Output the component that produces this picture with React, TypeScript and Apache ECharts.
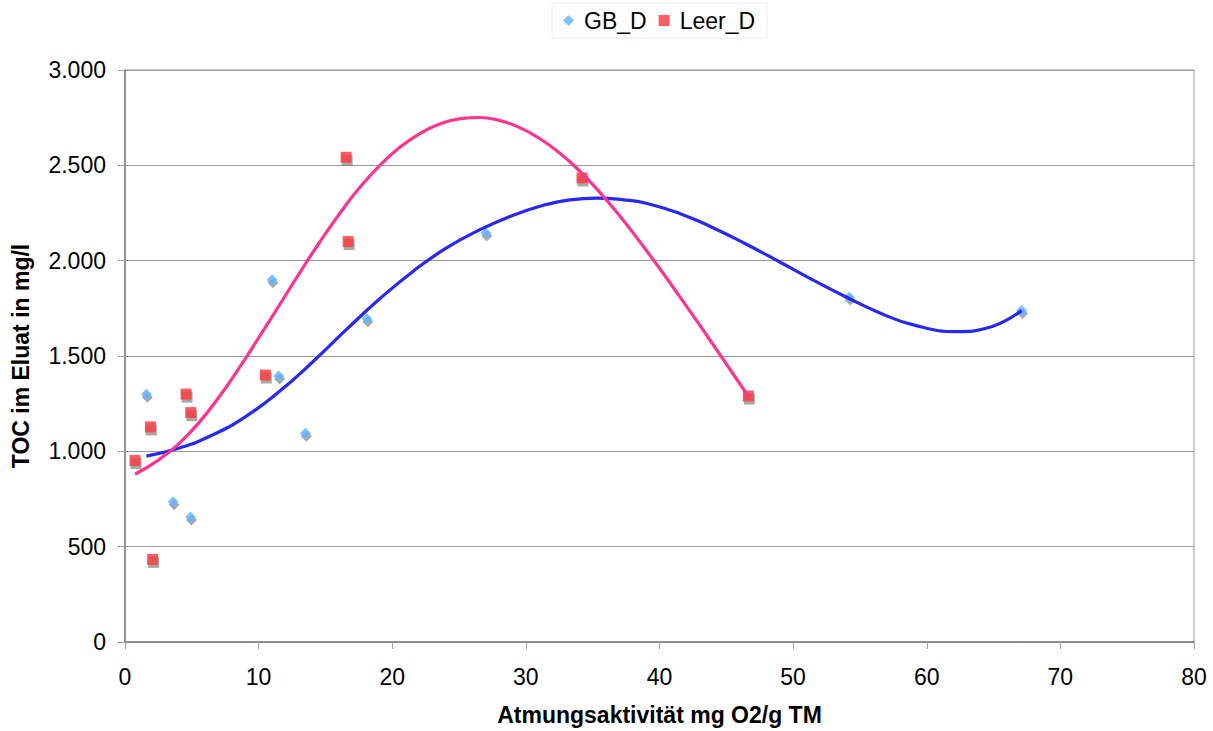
import React, { useEffect, useRef } from "react";
import * as echarts from "echarts";

// Scatter data
const gbX = [1.6, 3.6, 4.9, 11.0, 11.5, 13.5, 18.1, 27.0, 54.2, 67.1];
const gbY = [1300, 735, 655, 1900, 1395, 1095, 1695, 2145, 1810, 1738];
const leerX = [0.75, 1.9, 2.07, 4.57, 4.92, 10.5, 16.55, 16.7, 34.2, 46.65];
const leerY = [952, 1128, 433, 1300, 1203, 1400, 2542, 2100, 2434, 1290];

// Trend lines
const gbTrendX = [1.6, 4, 6.5, 9, 11.5, 14, 16.5, 19, 21.5, 24, 26.5, 29, 31.5, 33.3, 35.3, 37.3, 39, 41.5, 44, 46.5, 49, 51.5, 54, 56.5, 59, 62.3, 64.5, 67.1];
const gbTrendY = [975, 1016, 1084, 1181, 1311, 1466, 1634, 1796, 1941, 2064, 2160, 2237, 2294, 2319, 2328, 2319, 2301, 2248, 2173, 2086, 1993, 1898, 1808, 1726, 1663, 1628, 1647, 1738];
const leerTrendX = [0.75, 2.5, 4, 5.5, 7, 8.5, 10, 11.5, 13, 14.5, 16, 17.5, 19, 20.5, 22, 23.5, 25, 26.5, 28, 29.5, 31, 32.5, 34, 35.5, 37, 38.5, 40, 41.5, 43, 44.5, 46.65];
const leerTrendY = [880, 954, 1038, 1148, 1281, 1433, 1595, 1761, 1928, 2090, 2241, 2378, 2495, 2591, 2664, 2715, 2744, 2751, 2736, 2699, 2642, 2566, 2472, 2361, 2237, 2102, 1960, 1813, 1663, 1510, 1289];

// Axis ticks
const xTicks = { min: 0, max: 80, interval: 10 };
const yTicks = { min: 0, max: 3000, interval: 500 };

const FONT = "'Liberation Sans', Arial, sans-serif";
const FS = 23;

const zip = (xs: number[], ys: number[]) => xs.map((x, i) => [x, ys[i]]);

const fmtDE = (v: number) =>
  String(v).replace(/\B(?=(\d{3})+(?!\d))/g, ".");

export default function App() {
  const ref = useRef<HTMLDivElement>(null);
  useEffect(() => {
    document.body.style.margin = "0";
    const chart = echarts.init(ref.current!, null, { renderer: "svg" });
    const shadow = {
      shadowColor: "rgba(110,110,110,0.75)",
      shadowOffsetX: 1,
      shadowOffsetY: 3,
      shadowBlur: 1,
    };
    chart.setOption({
      animation: false,
      backgroundColor: "#ffffff",
      textStyle: { fontFamily: FONT },
      grid: {
        left: 125,
        right: 19,
        top: 70,
        bottom: 87,
        show: true,
        borderColor: "#9a9a9a",
        borderWidth: 1,
      },
      legend: {
        top: 3,
        left: 552,
        data: [
          { name: "GB_D", icon: "diamond", itemStyle: { color: "#5cb3ff" } },
          { name: "Leer_D", icon: "rect", itemStyle: { color: "#f8333a" } },
        ],
        itemWidth: 11,
        itemHeight: 11,
        itemGap: 12,
        padding: [6, 12, 6, 11],
        borderColor: "#ececec",
        borderWidth: 1,
        textStyle: { fontSize: FS, color: "#000", fontFamily: FONT, padding: [0, 0, 0, 5] },
      },
      xAxis: {
        type: "value",
        min: xTicks.min,
        max: xTicks.max,
        interval: xTicks.interval,
        name: "Atmungsaktivität mg O2/g TM",
        nameLocation: "middle",
        nameGap: 61,
        nameTextStyle: { fontSize: FS, fontWeight: "bold", color: "#000", fontFamily: FONT },
        axisLine: { show: true, lineStyle: { color: "#808080", width: 1.5 } },
        axisTick: { show: true, length: 7, lineStyle: { color: "#a0a0a0" } },
        axisLabel: { fontSize: FS, color: "#000", margin: 23, fontFamily: FONT },
        splitLine: { show: false },
      },
      yAxis: {
        type: "value",
        min: yTicks.min,
        max: yTicks.max,
        interval: yTicks.interval,
        name: "TOC im Eluat in mg/l",
        nameLocation: "middle",
        nameGap: 93,
        nameTextStyle: { fontSize: FS, fontWeight: "bold", color: "#000", fontFamily: FONT },
        axisLine: { show: true, lineStyle: { color: "#808080", width: 1.5 } },
        axisTick: { show: true, length: 7, lineStyle: { color: "#a0a0a0" } },
        axisLabel: { fontSize: FS, color: "#000", margin: 19, fontFamily: FONT, formatter: (v: number) => fmtDE(v) },
        splitLine: { show: true, lineStyle: { color: "#9a9a9a", width: 1 } },
      },
      series: [
        {
          name: "GB_D",
          type: "scatter",
          symbol: "diamond",
          symbolSize: [11, 11],
          data: zip(gbX, gbY),
          itemStyle: { color: "#5cb3ff", ...shadow },
          z: 2,
        },
        {
          name: "Leer_D",
          type: "scatter",
          symbol: "rect",
          symbolSize: 11,
          data: zip(leerX, leerY),
          itemStyle: { color: "#f8333a", ...shadow },
          z: 2,
        },
        {
          name: "GB_D trend",
          type: "line",
          data: zip(gbTrendX, gbTrendY),
          smooth: 0.5,
          showSymbol: false,
          symbol: "none",
          lineStyle: { color: "#2828f4", width: 3.2 },
          z: 3,
          silent: true,
        },
        {
          name: "Leer_D trend",
          type: "line",
          data: zip(leerTrendX, leerTrendY),
          smooth: 0.5,
          showSymbol: false,
          symbol: "none",
          lineStyle: { color: "#ff3390", width: 3.2 },
          z: 3,
          silent: true,
        },
      ],
    });
    return () => chart.dispose();
  }, []);
  return <div ref={ref} style={{ width: 1213, height: 731 }} />;
}
